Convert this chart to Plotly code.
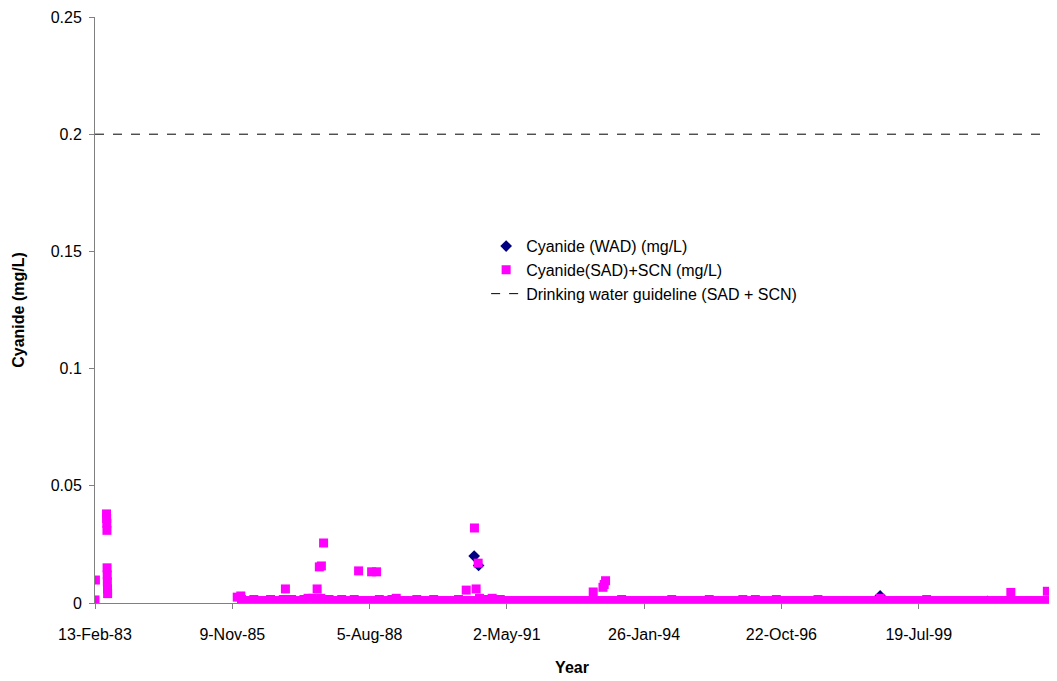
import plotly.graph_objects as go
import pandas as pd

# Sparse/outlier samples (SAD+SCN)
out_dates = ["1983-02-13", "1983-02-16", "1983-05-08", "1983-05-09", "1983-05-10", "1983-05-11",
             "1983-05-12", "1983-05-13", "1983-05-14", "1983-05-15", "1983-05-16",
             "1986-01-10", "1986-12-01", "1987-07-20", "1987-08-05", "1987-08-20", "1987-09-05",
             "1988-05-17", "1988-08-20", "1988-09-25", "1990-07-10", "1990-09-08", "1990-09-20",
             "1990-10-05", "1993-01-20", "1993-04-01", "1993-04-10", "1993-04-20",
             "1998-10-11", "2001-05-20", "2002-02-10"]
out_vals = [0.0013, 0.0098, 0.038, 0.036, 0.034, 0.031, 0.015, 0.012, 0.009, 0.006, 0.004,
            0.003, 0.006, 0.006, 0.0154, 0.0158, 0.0256,
            0.0137, 0.0133, 0.0133, 0.0055, 0.032, 0.006,
            0.017, 0.0047, 0.0067, 0.0079, 0.0095,
            0.002, 0.0045, 0.005]

# Routine monthly samples (SAD+SCN), Nov 1985 - Apr 2002
band_start = "1985-11-15"
band_vals = [
    0.0025, 0.0015,
    0.001, 0.001, 0.0015, 0.001, 0.001, 0.001, 0.0015, 0.001, 0.001, 0.0015, 0.001, 0.0015,
    0.001, 0.001, 0.0015, 0.002, 0.002, 0.001, 0.002, 0.0015, 0.0015, 0.001, 0.001, 0.0015,
    0.001, 0.001, 0.0015, 0.001, 0.001, 0.001, 0.001, 0.001, 0.0015, 0.001, 0.001, 0.0015,
    0.002, 0.001, 0.001, 0.001, 0.001, 0.0015, 0.001, 0.001, 0.001, 0.0015, 0.001, 0.001,
    0.001, 0.001, 0.001, 0.0015, 0.001, 0.001, 0.001, 0.001, 0.002, 0.0015, 0.001, 0.002,
    0.001, 0.0015, 0.001, 0.001, 0.001, 0.001, 0.001, 0.001, 0.001, 0.001, 0.001, 0.001,
    0.001, 0.001, 0.001, 0.001, 0.001, 0.001, 0.001, 0.001, 0.001, 0.001, 0.001, 0.001,
    0.001, 0.001, 0.001, 0.001, 0.001, 0.001, 0.0015, 0.001, 0.001, 0.001, 0.001, 0.001,
    0.001, 0.001, 0.001, 0.001, 0.001, 0.001, 0.0015, 0.001, 0.001, 0.001, 0.001, 0.001,
    0.001, 0.001, 0.001, 0.0015, 0.001, 0.001, 0.001, 0.001, 0.001, 0.001, 0.001, 0.0015,
    0.001, 0.001, 0.0015, 0.001, 0.001, 0.001, 0.001, 0.0015, 0.001, 0.001, 0.001, 0.001,
    0.001, 0.001, 0.001, 0.001, 0.001, 0.0015, 0.001, 0.001, 0.001, 0.001, 0.001, 0.001,
    0.001, 0.001, 0.001, 0.001, 0.001, 0.001, 0.001, 0.001, 0.001, 0.001, 0.001, 0.001,
    0.001, 0.001, 0.001, 0.001, 0.001, 0.001, 0.001, 0.0015, 0.001, 0.001, 0.001, 0.001,
    0.001, 0.001, 0.001, 0.001, 0.001, 0.001, 0.001, 0.001, 0.001, 0.001, 0.001, 0.001,
    0.001, 0.001, 0.001, 0.001, 0.001, 0.001, 0.001, 0.001, 0.001, 0.001, 0.001, 0.001,
    0.001, 0.001, 0.001, 0.0015, 0.001, 0.001, 0.001, 0.001, 0.001, 0.001, 0.001, 0.001,
    0.001, 0.001, 0.001, 0.001,
]

# WAD samples (mostly hidden beneath SAD+SCN)
wad_dates = ["1990-09-06", "1990-10-08", "1994-06-10", "1995-03-10", "1998-10-11", "2000-12-01"]
wad_vals = [0.020, 0.016, 0.0005, 0.0005, 0.003, 0.0007]

guide_dates = ["1983-02-13", "2002-02-22"]
guide_vals = [0.2, 0.2]

tick_dates = ["1983-02-13", "1985-11-09", "1988-08-05", "1991-05-02", "1994-01-26", "1996-10-22", "1999-07-19"]
tick_labels = ["13-Feb-83", "9-Nov-85", "5-Aug-88", "2-May-91", "26-Jan-94", "22-Oct-96", "19-Jul-99"]

band_dates = pd.date_range(band_start, periods=len(band_vals), freq="MS") + pd.Timedelta(days=14)

fig = go.Figure()
fig.add_trace(go.Scatter(x=wad_dates, y=wad_vals, mode="markers", name="Cyanide (WAD) (mg/L)",
                         marker=dict(symbol="diamond", color="#000080", size=9)))
fig.add_trace(go.Scatter(x=list(band_dates) + [pd.Timestamp(d) for d in out_dates],
                         y=band_vals + out_vals, mode="markers", name="Cyanide(SAD)+SCN (mg/L)",
                         marker=dict(symbol="square", color="#FF00FF", size=9)))
fig.add_trace(go.Scatter(x=guide_dates, y=guide_vals, mode="lines",
                         name="Drinking water guideline (SAD + SCN)",
                         line=dict(color="black", width=1, dash="dash")))

fig.update_layout(
    width=1041, height=673, plot_bgcolor="white", paper_bgcolor="white",
    margin=dict(l=87, r=0, t=9, b=78, autoexpand=False),
    font=dict(family="Liberation Sans, Arial", size=16, color="black"),
    legend=dict(x=0.41, y=0.638, xanchor="left", yanchor="top", bgcolor="rgba(0,0,0,0)",
                font=dict(size=16), tracegroupgap=0),
    showlegend=True,
)
fig.update_xaxes(range=["1983-02-13", "2002-02-22"], tickvals=tick_dates, ticktext=tick_labels,
                 showgrid=False, showline=True, linecolor="#808080", ticks="outside", ticklen=5,
                 tickcolor="#808080", zeroline=False, automargin=False, ticklabelstandoff=12,
                 title=dict(text="<b>Year</b>", font=dict(size=16), standoff=19))
fig.update_yaxes(range=[0, 0.25], tickvals=[0, 0.05, 0.1, 0.15, 0.2, 0.25],
                 ticktext=["0", "0.05", "0.1", "0.15", "0.2", "0.25"],
                 showgrid=False, showline=True, linecolor="#808080", ticks="outside", ticklen=5,
                 tickcolor="#808080", zeroline=False, automargin=False, ticklabelstandoff=4,
                 title=dict(text="<b>Cyanide (mg/L)</b>", font=dict(size=16), standoff=22))
fig.write_html("out.html")
